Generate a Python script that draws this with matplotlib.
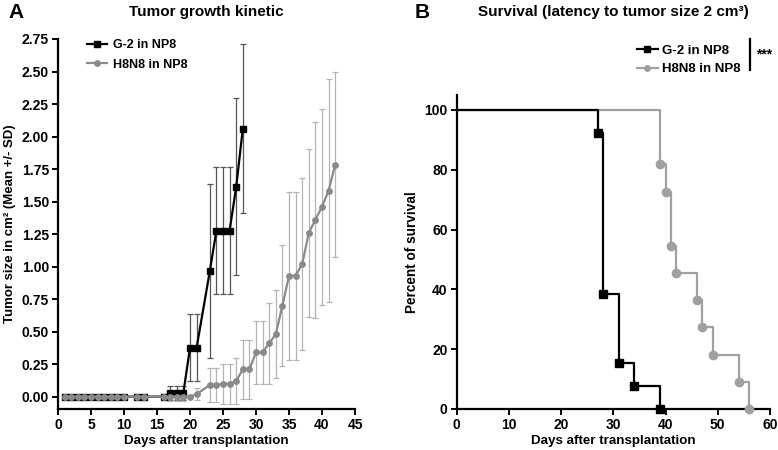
import matplotlib
matplotlib.use("Agg")
import matplotlib.pyplot as plt
from matplotlib.lines import Line2D

plt.rcParams['font.family'] = ['Liberation Sans', 'DejaVu Sans']
plt.rcParams['font.weight'] = 'bold'

# ---- Panel A data: tumor growth kinetic ----
g2_days = [1, 2, 3, 4, 5, 6, 7, 8, 9, 10, 12, 13, 16, 17, 18, 19, 20, 21, 23, 24, 25, 26, 27, 28]
g2_mean = [0, 0, 0, 0, 0, 0, 0, 0, 0, 0, 0, 0, 0, 0.03, 0.03, 0.03, 0.376, 0.376, 0.964,
           1.276, 1.276, 1.276, 1.613, 2.059]
g2_sd = [0, 0, 0, 0, 0, 0, 0, 0, 0, 0, 0, 0, 0, 0.055, 0.055, 0.055, 0.256, 0.256, 0.67,
         0.49, 0.49, 0.49, 0.68, 0.65]

h8_days = [1, 2, 3, 4, 5, 6, 7, 8, 9, 10, 12, 13, 16, 17, 18, 19, 20, 21, 23, 24, 25, 26, 27,
           28, 29, 30, 31, 32, 33, 34, 35, 36, 37, 38, 39, 40, 41, 42]
h8_mean = [0, 0, 0, 0, 0, 0, 0, 0, 0, 0, 0, 0, 0, 0, 0, 0, 0, 0.018, 0.09, 0.09, 0.10, 0.10, 0.12,
           0.21, 0.21, 0.34, 0.34, 0.41, 0.48, 0.70, 0.93, 0.93, 1.02, 1.26, 1.36, 1.46, 1.585, 1.785]
h8_sd = [0, 0, 0, 0, 0, 0, 0, 0, 0, 0, 0, 0, 0, 0.03, 0.03, 0.03, 0, 0.046, 0.133, 0.133, 0.153,
         0.153, 0.18, 0.228, 0.228, 0.24, 0.24, 0.31, 0.338, 0.463, 0.645, 0.645, 0.66, 0.645,
         0.755, 0.755, 0.855, 0.71]

# ---- Panel B data: survival ----
g2_km_days = [0, 27, 28, 31, 34, 39]
g2_km_surv = [100, 92.3, 38.5, 15.4, 7.7, 0]
h8_km_days = [0, 39, 40, 41, 42, 46, 47, 49, 54, 56]
h8_km_surv = [100, 81.8, 72.7, 54.5, 45.5, 36.4, 27.3, 18.2, 9.1, 0]

series_labels = ["G-2 in NP8", "H8N8 in NP8"]
a_xticks = [0, 5, 10, 15, 20, 25, 30, 35, 40, 45]
a_yticks = [0.00, 0.25, 0.50, 0.75, 1.00, 1.25, 1.50, 1.75, 2.00, 2.25, 2.50, 2.75]
b_xticks = [0, 10, 20, 30, 40, 50, 60]
b_yticks = [0, 20, 40, 60, 80, 100]

BLACK = '#000000'
GREY = '#8a8a8a'
GREY_ERR = '#b4b4b4'
BLACK_ERR = '#555555'
GREY_KM = '#a0a0a0'

W, H = 778, 450
fig = plt.figure(figsize=(W / 100, H / 100), dpi=100)


def px_axes(x0, y0, x1, y1):
    return fig.add_axes([x0 / W, 1 - y1 / H, (x1 - x0) / W, (y1 - y0) / H])


def style(ax):
    for s in ['top', 'right']:
        ax.spines[s].set_visible(False)
    for s in ['left', 'bottom']:
        ax.spines[s].set_linewidth(1.6)
    ax.tick_params(width=1.4, length=4, labelsize=10, direction='out', pad=2.5)
    for lab in ax.get_xticklabels() + ax.get_yticklabels():
        lab.set_fontweight('bold')


# ---- Panel A ----
axA = px_axes(58, 39, 355, 409)
axA.errorbar(g2_days, g2_mean, yerr=g2_sd, fmt='none', ecolor=BLACK_ERR, elinewidth=0.9,
             capsize=2.5, capthick=0.9, zorder=2)
axA.errorbar(h8_days, h8_mean, yerr=h8_sd, fmt='none', ecolor=GREY_ERR, elinewidth=0.9,
             capsize=2.5, capthick=0.9, zorder=2)
axA.plot(g2_days, g2_mean, color=BLACK, lw=1.6, marker='s', ms=3.7, zorder=3)
axA.plot(h8_days, h8_mean, color=GREY, lw=1.6, marker='o', ms=3.9, zorder=4)
axA.set_xlim(0, 45)
axA.set_ylim(-0.095, 2.75)
axA.set_xticks(a_xticks)
axA.set_yticks(a_yticks)
axA.set_yticklabels([f"{v:.2f}" for v in a_yticks])
axA.set_xlabel("Days after transplantation", fontsize=9.6, fontweight='bold', labelpad=2)
axA.set_ylabel("Tumor size in cm² (Mean +/- SD)", fontsize=9.5, fontweight='bold', labelpad=4)
style(axA)

legA = [Line2D([], [], color=BLACK, lw=1.6, marker='s', ms=3.7),
        Line2D([], [], color=GREY, lw=1.6, marker='o', ms=3.9)]
axA.legend(legA, series_labels, loc='upper left', bbox_to_anchor=(0.06, 1.03), frameon=False,
           prop={'size': 9, 'weight': 'bold'}, handlelength=1.6, handletextpad=0.45,
           labelspacing=0.6)

fig.text(8 / W, 1 - 13 / H, "A", fontsize=15, fontweight='bold', va='center', ha='left')
fig.text(206 / W, 1 - 12 / H, "Tumor growth kinetic", fontsize=11, fontweight='bold',
         va='center', ha='center')

# ---- Panel B ----
axB = px_axes(456.7, 95, 770, 409)
axB.step(h8_km_days, h8_km_surv, where='post', color=GREY_KM, lw=1.6, zorder=2)
axB.plot(h8_km_days[1:], h8_km_surv[1:], ls='none', marker='o', ms=6, color=GREY_KM,
         zorder=3, clip_on=False)
axB.step(g2_km_days, g2_km_surv, where='post', color=BLACK, lw=1.6, zorder=4)
axB.plot(g2_km_days[1:], g2_km_surv[1:], ls='none', marker='s', ms=6, color=BLACK,
         zorder=5, clip_on=False)
axB.set_xlim(0, 60)
axB.set_ylim(0, 105)
axB.set_xticks(b_xticks)
axB.set_yticks(b_yticks)
axB.set_xlabel("Days after transplantation", fontsize=9.6, fontweight='bold', labelpad=2)
axB.set_ylabel("Percent of survival", fontsize=9.8, fontweight='bold', labelpad=4)
style(axB)

legB = [Line2D([], [], color=BLACK, lw=1.6, marker='s', ms=4),
        Line2D([], [], color=GREY_KM, lw=1.6, marker='o', ms=4)]
fig.legend(legB, series_labels, loc='upper left', bbox_to_anchor=(625 / W, 1 - 33 / H),
           frameon=False, prop={'size': 9.5, 'weight': 'bold'}, handlelength=1.6,
           handletextpad=0.3, labelspacing=0.45)
fig.add_artist(Line2D([750 / W, 750 / W], [1 - 39 / H, 1 - 70 / H], color=BLACK, lw=1.6))
fig.text(756 / W, 1 - 54 / H, "***", fontsize=10, fontweight='bold', va='center', ha='left')

fig.text(415 / W, 1 - 13 / H, "B", fontsize=15, fontweight='bold', va='center', ha='left')
fig.text(613 / W, 1 - 12 / H, "Survival (latency to tumor size 2 cm³)", fontsize=11,
         fontweight='bold', va='center', ha='center')

fig.savefig("out.png", dpi=100)
